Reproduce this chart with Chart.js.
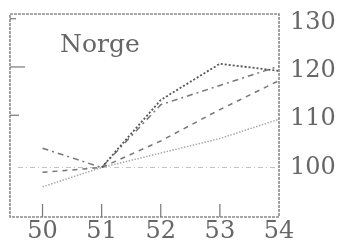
<!DOCTYPE html>
<html>
<head>
<meta charset="utf-8">
<script src="https://cdn.jsdelivr.net/npm/chart.js@4/dist/chart.umd.min.js"></script>
<style>
  html, body { margin: 0; padding: 0; background: #fff; }
  #wrap { width: 340px; height: 243px; position: relative; }
</style>
</head>
<body>
<div id="wrap"><canvas id="norge-chart"></canvas></div>
<script>
// Norway index, 1951 = 100
const years = [50, 51, 52, 53, 54];
const seriesDotted = [null, 100, 114, 121.5, 120];
const seriesDashDot = [104, 100, 113, 117, 121];
const seriesDashed = [99, 100, 105.5, 112, 118];
const seriesLight = [96, 100, 103, 106, 110];
const yTickLabels = [100, 110, 120, 130];
const title = 'Norge';

const serif = '"DejaVu Serif", "Liberation Serif", serif';

function toPoints(values) {
    return years.map((yr, i) => ({ x: yr, y: values[i] }));
}

// frame, base line and hand-drawn style tick marks
const framePlugin = {
    id: 'frame',
    beforeDatasetsDraw(chart) {
        const { ctx, chartArea: a, scales } = chart;
        ctx.save();
        // reference line at 100
        const y100 = scales.y.getPixelForValue(100);
        ctx.strokeStyle = '#c4c4c4';
        ctx.lineWidth = 1.2;
        ctx.setLineDash([5, 3, 1, 3]);
        ctx.beginPath();
        ctx.moveTo(a.left + 8, y100);
        ctx.lineTo(a.right, y100);
        ctx.stroke();
        ctx.restore();
    },
    afterDraw(chart) {
        const { ctx, chartArea: a, scales } = chart;
        ctx.save();
        ctx.strokeStyle = '#8a8a8a';
        ctx.lineWidth = 1.6;
        ctx.setLineDash([3, 1]);
        ctx.strokeRect(a.left, a.top, a.right - a.left, a.bottom - a.top);
        ctx.setLineDash([]);
        ctx.lineWidth = 1.2;
        ctx.strokeStyle = '#777';
        // bottom ticks
        [50, 51, 52, 53].forEach(v => {
            const x = scales.x.getPixelForValue(v);
            ctx.beginPath();
            ctx.moveTo(x, a.bottom);
            ctx.lineTo(x, a.bottom - 13);
            ctx.stroke();
        });
        // left ticks
        [[130, 6], [120, 15], [110, 9]].forEach(([v, len]) => {
            const y = scales.y.getPixelForValue(v) - 4;
            ctx.beginPath();
            ctx.moveTo(a.left, y);
            ctx.lineTo(a.left + len, y);
            ctx.stroke();
        });
        // title
        ctx.fillStyle = '#666';
        ctx.font = '25px ' + serif;
        ctx.textBaseline = 'alphabetic';
        ctx.fillText(title, a.left + 50, a.top + 38);
        ctx.restore();
    }
};

const ctx = document.getElementById('norge-chart').getContext('2d');
new Chart(ctx, {
    type: 'line',
    data: {
        datasets: [
            { data: toPoints(seriesDotted), borderColor: '#555', borderWidth: 1.8, borderDash: [2, 2] },
            { data: toPoints(seriesDashDot), borderColor: '#777', borderWidth: 1.5, borderDash: [6, 4, 2, 4] },
            { data: toPoints(seriesDashed), borderColor: '#777', borderWidth: 1.5, borderDash: [5, 5] },
            { data: toPoints(seriesLight), borderColor: '#aaa', borderWidth: 1.5, borderDash: [1.5, 1.5] }
        ]
    },
    options: {
        responsive: true,
        maintainAspectRatio: false,
        animation: false,
        spanGaps: false,
        elements: { point: { radius: 0 }, line: { tension: 0, fill: false } },
        layout: { padding: { left: 10, top: 14, right: 0, bottom: 0 } },
        plugins: { legend: { display: false }, tooltip: { enabled: false } },
        scales: {
            x: {
                type: 'linear',
                min: 49.45,
                max: 54,
                grid: { display: false, drawTicks: false },
                border: { display: false },
                afterBuildTicks: s => { s.ticks = years.map(v => ({ value: v })); },
                afterFit: s => { s.height = 26; s.paddingLeft = 0; },
                ticks: {
                    color: '#666',
                    padding: 0,
                    maxRotation: 0,
                    font: { family: serif, size: 24 },
                    callback: v => String(v)
                }
            },
            y: {
                position: 'right',
                min: 89.75,
                max: 131.8,
                grid: { display: false, drawTicks: false },
                border: { display: false },
                afterBuildTicks: s => { s.ticks = yTickLabels.map(v => ({ value: v })); },
                afterFit: s => { s.width = 61; s.paddingTop = 0; s.paddingBottom = 0; },
                ticks: {
                    color: '#666',
                    padding: 11,
                    font: { family: serif, size: 24 },
                    callback: v => String(v)
                }
            }
        }
    },
    plugins: [framePlugin]
});
</script>
</body>
</html>
